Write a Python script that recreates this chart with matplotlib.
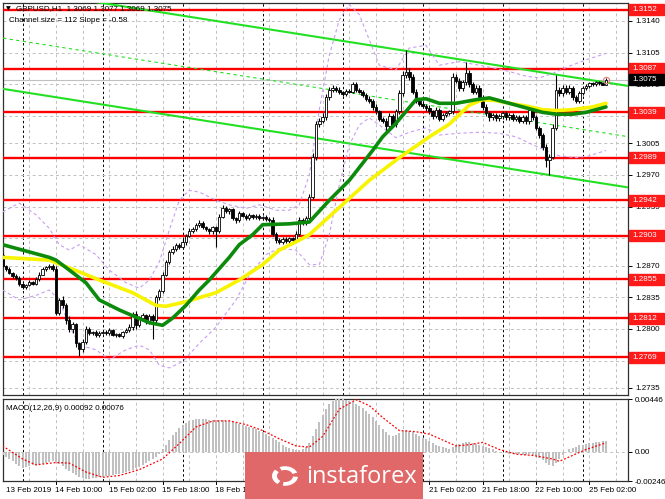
import matplotlib
matplotlib.use("Agg")
import matplotlib.pyplot as plt
from matplotlib.patches import Rectangle, Wedge
from matplotlib.transforms import blended_transform_factory
import numpy as np

# ---------------- data ----------------
symbol_title = "GBPUSD,H1  1.3069 1.3077 1.3069 1.3075"
channel_text = "Channel size = 112 Slope = -0.58"
macd_text = "MACD(12,26,9) 0.00092 0.00076"

open_first = 12882  # price * 1e4
close_pips = [
    12870, 12866, 12862, 12858, 12856, 12850, 12846, 12848, 12852, 12850,
    12855, 12860, 12866, 12868, 12870, 12866, 12818, 12832, 12826, 12810,
    12800, 12805, 12784, 12778, 12786, 12800, 12795, 12797, 12793, 12796,
    12797, 12795, 12799, 12793, 12794, 12792, 12797, 12799, 12802, 12816,
    12804, 12812, 12815, 12808, 12814, 12810, 12835, 12842, 12860, 12874,
    12885, 12888, 12893, 12890, 12896, 12903, 12908, 12910, 12915, 12917,
    12912, 12910, 12908, 12912, 12908, 12924, 12934, 12930, 12932, 12922,
    12920, 12928, 12925, 12922, 12926, 12923, 12925, 12922, 12924, 12921,
    12920, 12905, 12898, 12896, 12899, 12897, 12900, 12898, 12905, 12920,
    12917, 12922, 12946, 12990, 13026, 13030, 13034, 13056, 13064, 13066,
    13064, 13061, 13059, 13063, 13062, 13070, 13064, 13062, 13058, 13054,
    13052, 13045, 13040, 13032, 13030, 13024, 13035, 13026, 13040, 13060,
    13080, 13084, 13078, 13062, 13052, 13048, 13046, 13044, 13040, 13035,
    13042, 13032, 13036, 13038, 13040, 13078, 13074, 13066, 13072, 13082,
    13070, 13062, 13066, 13056, 13045, 13038, 13034, 13036, 13033, 13035,
    13038, 13034, 13036, 13032, 13034, 13030, 13034, 13029, 13042, 13034,
    13022, 13014, 13001, 12986, 12990, 13022, 13064, 13060, 13066, 13062,
    13066, 13056, 13052, 13060, 13066, 13068, 13071, 13070, 13072, 13071,
    13069, 13075,
]
upper_wick = [
    2, 1, 2, 1, 3, 2, 1, 2, 2, 1,  2, 3, 2, 1, 2, 2, 3, 2, 4, 3,
    4, 3, 2, 2, 3, 3, 2, 1, 2, 2,  1, 2, 2, 1, 1, 2, 1, 2, 3, 3,
    4, 2, 3, 2, 3, 2, 3, 2, 3, 2,  2, 3, 2, 2, 3, 2, 3, 2, 2, 3,
    2, 2, 1, 2, 2, 3, 3, 2, 2, 2,  2, 2, 1, 2, 2, 1, 2, 2, 1, 2,
    2, 3, 2, 2, 2, 2, 2, 2, 3, 3,  2, 3, 3, 4, 3, 3, 4, 3, 3, 3,
    2, 3, 2, 2, 2, 3, 2, 2, 2, 2,  3, 2, 3, 2, 2, 3, 3, 2, 3, 4,
    5, 24, 4, 3, 3, 2, 3, 2, 3, 2,  3, 2, 2, 2, 2, 4, 3, 3, 3, 13,
    4, 3, 3, 3, 2, 3, 2, 2, 2, 2,  3, 2, 2, 2, 2, 2, 2, 2, 4, 2,
    2, 2, 2, 3, 3, 4, 16, 3, 3, 3,  3, 2, 2, 3, 2, 2, 2, 2, 2, 2,
    2, 2,
]
lower_wick = [
    2, 2, 1, 2, 2, 3, 2, 2, 1, 2,  2, 2, 1, 2, 2, 2, 3, 3, 3, 5,
    3, 4, 4, 8, 3, 3, 2, 2, 2, 2,  2, 2, 2, 1, 2, 1, 2, 2, 2, 3,
    4, 2, 3, 2, 2, 21, 3, 3, 2, 2,  2, 2, 2, 2, 2, 3, 2, 2, 2, 2,
    2, 2, 3, 3, 18, 2, 2, 2, 3, 2,  3, 2, 2, 2, 2, 2, 2, 2, 2, 2,
    2, 2, 3, 2, 2, 2, 2, 2, 2, 2,  2, 2, 3, 3, 4, 3, 3, 3, 3, 2,
    2, 2, 2, 2, 2, 2, 2, 2, 2, 2,  3, 3, 3, 3, 3, 6, 3, 3, 3, 3,
    3, 3, 3, 3, 3, 2, 2, 3, 3, 3,  2, 3, 3, 2, 2, 3, 3, 3, 3, 3,
    3, 3, 3, 3, 3, 3, 4, 3, 3, 3,  3, 3, 3, 3, 3, 3, 3, 3, 3, 3,
    3, 3, 3, 7, 16, 3, 3, 3, 3, 3,  3, 3, 3, 3, 2, 2, 2, 2, 2, 2,
    0, 0,
]

green_ma_idx = [0, 14, 16, 20, 25, 29, 35, 40, 44, 48, 51, 55, 59, 62, 68, 71, 75, 78,
                86, 92, 98, 104, 111, 114, 118, 124, 127, 131, 136, 142, 146, 152,
                157, 162, 166, 171, 175, 181]
green_ma_val = [1.2893, 1.2879, 1.2876, 1.2865, 1.2851, 1.2832, 1.2821, 1.2813, 1.2807,
                1.2804, 1.2812, 1.2826, 1.2843, 1.2854, 1.2879, 1.2893, 1.2904, 1.2915,
                1.2916, 1.2918, 1.2942, 1.2964, 1.2997, 1.3012, 1.3027, 1.3053, 1.3054,
                1.3049, 1.3049, 1.3053, 1.3055, 1.3049, 1.3044, 1.3039, 1.3037, 1.3037,
                1.3039, 1.3045]
yellow_ma_idx = [0, 14, 23, 29, 39, 46, 49, 55, 64, 71, 78, 83, 89, 92, 110, 119, 128,
                 134, 140, 144, 148, 152, 157, 162, 166, 171, 177, 181]
yellow_ma_val = [1.2879, 1.2876, 1.2863, 1.2854, 1.2840, 1.2826, 1.2825, 1.2830, 1.2840,
                 1.2854, 1.2871, 1.2887, 1.2898, 1.2904, 1.2964, 1.2989, 1.3012, 1.3026,
                 1.3047, 1.3053, 1.3052, 1.3049, 1.3046, 1.3042, 1.3041, 1.3042, 1.3045,
                 1.3049]
band_up_idx = [0, 5, 10, 14, 17, 20, 23, 28, 32, 37, 41, 44, 47, 50, 53, 56, 59, 64, 68,
               73, 77, 82, 86, 89, 92, 95, 98, 101, 104, 107, 110, 113, 118, 122, 127,
               131, 137, 143, 150, 157, 161, 165, 170, 175, 181]
band_up_val = [1.2929, 1.2939, 1.2926, 1.2911, 1.2893, 1.2887, 1.2893, 1.2882, 1.2865,
               1.2851, 1.2845, 1.2854, 1.2874, 1.2909, 1.2942, 1.2953, 1.2951, 1.2942,
               1.2937, 1.2933, 1.2937, 1.2931, 1.2931, 1.2937, 1.2970, 1.3042, 1.3102,
               1.3141, 1.3158, 1.3147, 1.3119, 1.3091, 1.3086, 1.3110, 1.3113, 1.3091,
               1.3095, 1.3091, 1.3086, 1.3079, 1.3077, 1.3082, 1.3090, 1.3097, 1.3104]
band_lo_idx = [0, 5, 10, 14, 17, 20, 23, 28, 32, 37, 41, 44, 47, 50, 54, 59, 64, 70, 74,
               79, 83, 88, 92, 95, 98, 101, 104, 107, 110, 113, 118, 122, 127, 131, 137,
               143, 149, 154, 158, 163, 167, 172, 176, 181]
band_lo_val = [1.2843, 1.2832, 1.2837, 1.2843, 1.2832, 1.2804, 1.2782, 1.2777, 1.2766,
               1.2777, 1.2782, 1.2777, 1.2760, 1.2757, 1.2764, 1.2784, 1.2802, 1.2832,
               1.2859, 1.2882, 1.2889, 1.2887, 1.2871, 1.2871, 1.2904, 1.2959, 1.3003,
               1.3025, 1.3033, 1.3025, 1.3011, 1.3017, 1.3022, 1.3014, 1.3016, 1.3017,
               1.3016, 1.3012, 1.3005, 1.2997, 1.2991, 1.2989, 1.2991, 1.2997]

channel_mid_start = 1.3121   # middle line price at bar 0
channel_size_pips = 112
channel_slope_pips = -0.58   # per bar

levels = [1.3152, 1.3087, 1.3039, 1.2989, 1.2942, 1.2903, 1.2855, 1.2812, 1.2769]
bid_price = 1.3075
price_ticks = [1.3140, 1.3105, 1.3070, 1.3035, 1.3005, 1.2970, 1.2935, 1.2900,
               1.2870, 1.2835, 1.2800, 1.2765, 1.2735]
hidden_tick_labels = [1.3035, 1.2900]

macd_hist = [  # 1e-5 units
    -30, -45, -60, -80, -100, -120, -135, -130, -120, -110,
    -110, -105, -100, -95, -85, -80, -85, -100, -120, -145,
    -165, -180, -195, -210, -220, -225, -225, -220, -220, -215,
    -210, -205, -200, -195, -190, -185, -180, -170, -160, -150,
    -140, -125, -110, -95, -80, -60, -40, -15, 20, 60,
    100, 140, 170, 200, 225, 245, 260, 270, 278, 280,
    278, 275, 272, 270, 268, 268, 265, 262, 258, 252,
    245, 238, 230, 220, 210, 200, 190, 178, 165, 150,
    135, 120, 100, 80, 60, 45, 30, 20, 15, 12,
    20, 40, 75, 130, 190, 250, 310, 360, 400, 430,
    445, 446, 446, 440, 430, 420, 405, 390, 370, 345,
    320, 290, 260, 225, 195, 165, 140, 130, 140, 160,
    180, 185, 175, 165, 150, 135, 120, 105, 90, 75,
    60, 50, 40, 30, 25, 40, 55, 65, 75, 85,
    80, 75, 70, 60, 50, 40, 30, 20, 10, 0,
    -5, -10, -15, -18, -20, -22, -25, -25, -22, -25,
    -35, -50, -70, -95, -115, -120, -95, -60, -30, 0,
    20, 35, 45, 55, 60, 65, 72, 78, 82, 86,
    90, 92,
]
signal_idx = [0, 6, 10, 16, 20, 25, 30, 35, 41, 48, 53, 58, 63, 68, 73, 78, 83, 88, 92,
              96, 101, 106, 110, 114, 119, 124, 128, 132, 136, 140, 144, 149, 154, 159,
              165, 167, 171, 175, 181]
signal_val = [50, -60, -110, -90, -95, -170, -215, -200, -150, -60, 70, 210, 260, 262,
              230, 180, 110, 50, 40, 130, 360, 440, 390, 290, 180, 170, 150, 100, 50,
              60, 80, 20, -20, -30, -60, -80, -30, 20, 76]
macd_top, macd_bottom = 0.00446, -0.00246

date_labels = ["13 Feb 2019", "14 Feb 10:00", "15 Feb 02:00", "15 Feb 18:00",
               "18 Feb 10:00", "19 Feb 02:00", "19 Feb 18:00", "20 Feb 10:00",
               "21 Feb 02:00", "21 Feb 18:00", "22 Feb 10:00", "25 Feb 02:00"]
date_label_bars = [0, 16, 32, 48, 64, 80, 96, 112, 128, 144, 160, 176]
day_separator_bars = [6, 30, 54, 78, 102, 126, 150, 174]

# ---------------- layout ----------------
W, H = 665, 499
fig = plt.figure(figsize=(W / 100, H / 100), dpi=100)
fig.patch.set_facecolor("white")


def rect(l, t, r, b):
    return [l / W, 1 - b / H, (r - l) / W, (b - t) / H]


ax = fig.add_axes(rect(3, 3, 628, 395))
mx = fig.add_axes(rect(3, 399, 628, 481))

XL, XR = 0.12, 187.6
YB, YT = 1.27271, 1.31597
FONT = "Liberation Sans"
FS = 5.8

for a in (ax, mx):
    a.set_xlim(XL, XR)
    a.set_facecolor("white")
    for s in a.spines.values():
        s.set_color("#303030")
        s.set_linewidth(0.9)
    a.tick_params(axis="x", bottom=False, labelbottom=False)
ax.set_ylim(YB, YT)
mx.set_ylim(macd_bottom, macd_top)

# grid
grid_bars = list(range(8, 188, 8))
for a in (ax, mx):
    for g in grid_bars:
        a.axvline(g, color="#c0c0c0", lw=0.7, ls=(0, (3, 3)), zorder=1)
    for d in day_separator_bars:
        a.axvline(d, color="black", lw=0.7, ls=(0, (2.5, 2.5)), zorder=1)
for p in price_ticks:
    ax.axhline(p, color="#c0c0c0", lw=0.7, ls=(0, (3, 3)), zorder=1)

# price axis
ax.yaxis.tick_right()
ax.set_yticks(price_ticks)
ax.set_yticklabels(["" if p in hidden_tick_labels else f"{p:.4f}" for p in price_ticks],
                   fontsize=FS, family=FONT)
ax.tick_params(axis="y", length=3, width=0.7, pad=2, colors="black")

# red support / resistance lines
for lv in levels:
    ax.axhline(lv, color="#ff0000", lw=1.7, zorder=3)
ax.axhline(bid_price, color="#c0c0c0", lw=0.8, zorder=2)

# regression channel
ch_x = np.array([XL, XR])
ch_mid = channel_mid_start + channel_slope_pips * ch_x / 1e4
half = channel_size_pips / 2 / 1e4
ax.plot(ch_x, ch_mid + half, color="#22e022", lw=1.5, zorder=3)
ax.plot(ch_x, ch_mid - half, color="#22e022", lw=1.5, zorder=3)
ax.plot(ch_x, ch_mid, color="#22e022", lw=0.8, ls=(0, (3, 3)), zorder=3)

# bands
ax.plot(band_up_idx, band_up_val, color="#c89ef0", lw=0.8, ls=(0, (3, 2.5)), zorder=3)
ax.plot(band_lo_idx, band_lo_val, color="#c89ef0", lw=0.8, ls=(0, (3, 2.5)), zorder=3)

# candles
c = np.array(close_pips) / 1e4
o = np.concatenate([[open_first / 1e4], c[:-1]])
hi = np.maximum(o, c) + np.array(upper_wick) / 1e4
lo = np.minimum(o, c) - np.array(lower_wick) / 1e4
idx = np.arange(len(c))
ax.vlines(idx, lo, hi, color="black", lw=0.8, zorder=4)
bull = c >= o
body = np.maximum(np.abs(c - o), 0.00004)
bot = np.minimum(o, c)
ax.bar(idx[bull], body[bull], bottom=bot[bull], width=0.72, color="white",
       edgecolor="black", lw=0.6, zorder=5)
ax.bar(idx[~bull], body[~bull], bottom=bot[~bull], width=0.72, color="black",
       edgecolor="black", lw=0.6, zorder=5)

# moving averages
ax.plot(yellow_ma_idx, yellow_ma_val, color="#f8f400", lw=2.6, zorder=6,
        solid_capstyle="round", solid_joinstyle="round")
ax.plot(green_ma_idx, green_ma_val, color="#0b8a0b", lw=2.6, zorder=7,
        solid_capstyle="round", solid_joinstyle="round")
ax.plot([idx[-1]], [c[-1]], marker="o", ms=4.5, mfc="none", mec="#e58a8a", mew=0.9, zorder=8)

# right-side price label boxes
px_per_price = (395 - 3) / (YT - YB)
bh = 11 / px_per_price
ftr = blended_transform_factory(fig.transFigure, ax.transData)
for lv in levels:
    fig.patches.append(Rectangle((629 / W, lv - bh / 2), 35 / W, bh, transform=ftr,
                                 facecolor="#ff1a1a", edgecolor="#ff1a1a", zorder=10))
    fig.text(632 / W, lv, f"{lv:.4f}", transform=ftr, color="white", fontsize=FS,
             family=FONT, va="center", ha="left", zorder=11)
fig.patches.append(Rectangle((629 / W, bid_price - bh / 2), 35 / W, bh, transform=ftr,
                             facecolor="black", edgecolor="black", zorder=10))
fig.text(632 / W, bid_price, f"{bid_price:.4f}", transform=ftr, color="white",
         fontsize=FS, family=FONT, va="center", ha="left", zorder=11)

# header texts
fig.text(6 / W, 1 - 8.5 / H, "\u25BC", fontsize=4.5, va="center", ha="left", color="black")
fig.text(16 / W, 1 - 8.5 / H, symbol_title, fontsize=FS, family=FONT, va="center", ha="left")
fig.text(9 / W, 1 - 20 / H, channel_text, fontsize=FS, family=FONT, va="center", ha="left")

# MACD
mx.bar(idx, np.array(macd_hist) / 1e5, width=0.6, color="#c0c0c0", zorder=3)
mx.plot(signal_idx, np.array(signal_val) / 1e5, color="#ff0000", lw=0.9,
        ls=(0, (1.5, 1.5)), zorder=4)
mx.axhline(0, color="#c0c0c0", lw=0.7, ls=(0, (3, 3)), zorder=2)
mx.yaxis.tick_right()
mx.set_yticks([macd_top, 0.0, macd_bottom])
mx.set_yticklabels(["0.00446", "0.00", "-0.00246"], fontsize=FS, family=FONT)
mx.tick_params(axis="y", length=3, width=0.7, pad=2)
mx.text(0.004, 0.88, macd_text, transform=mx.transAxes, fontsize=FS, family=FONT,
        va="center", ha="left")

# date labels
dtr = blended_transform_factory(mx.transData, fig.transFigure)
for lbl, b in zip(date_labels, date_label_bars):
    xoff = 1.0 if b == 0 else -0.2
    fig.text(b + xoff, 1 - 490 / H, lbl, transform=dtr, fontsize=FS, family=FONT,
             va="center", ha="left")
    if b > 0:
        mx.plot([b, b], [0, -0.04], transform=blended_transform_factory(mx.transData, mx.transAxes),
                color="black", lw=0.7, clip_on=False)

# watermark
fig.patches.append(Rectangle((245 / W, 0), 178 / W, 47 / H, transform=fig.transFigure,
                             facecolor="#e06868", edgecolor="none", zorder=20))
cx, cy, r = 285, 476, 13
for k, (t1, t2) in enumerate([(20, 140), (140, 260), (260, 380)]):
    fig.patches.append(Wedge((cx / W, 1 - cy / H), r / W, t1, t2 - 25, width=5 / W,
                             transform=fig.transFigure, facecolor="white",
                             edgecolor="none", zorder=21))
fig.text(362 / W, 1 - 477 / H, "instaforex", color="white", fontsize=17,
         family="Open Sans", va="center", ha="center", zorder=22)

fig.savefig("out.png", dpi=100)
